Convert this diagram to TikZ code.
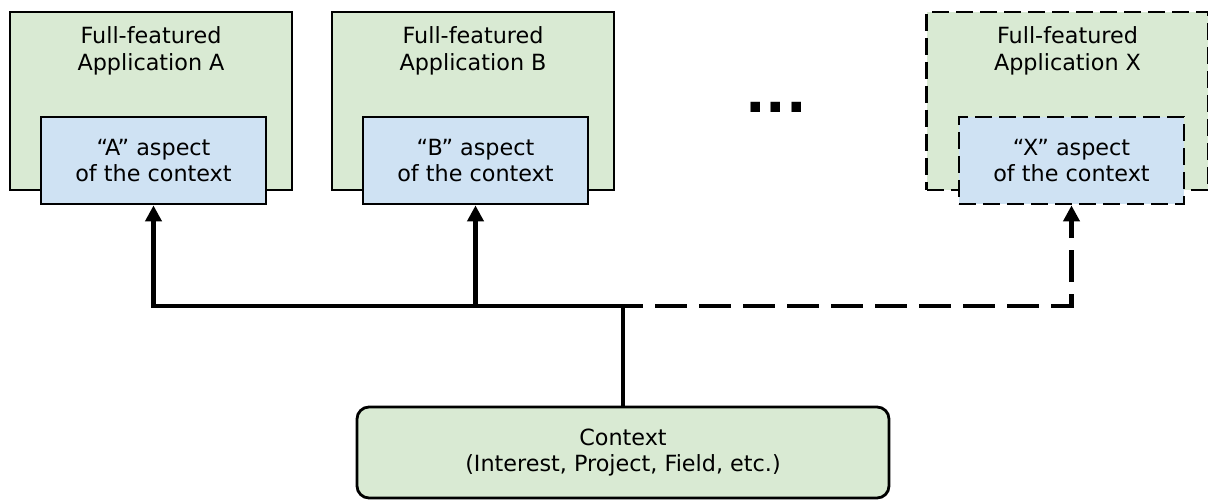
\documentclass[tikz,border=0pt]{standalone}
\usepackage{fontspec}
\setmainfont{DejaVu Sans}
\usetikzlibrary{arrows.meta,positioning}
\definecolor{appgreen}{HTML}{D9EAD3}
\definecolor{aspblue}{HTML}{CFE2F3}

\begin{document}
\begin{tikzpicture}[x=1pt, y=-1pt,
    app/.style={draw, line width=2.8pt, fill=appgreen, minimum width=282pt, minimum height=178pt},
    aspect/.style={draw, line width=2.8pt, fill=aspblue, minimum width=225pt, minimum height=87pt,
                   align=center, font=\fontsize{22.3}{26.5}\selectfont},
    title/.style={inner sep=0pt, align=center, font=\fontsize{22.3}{26.5}\selectfont},
    maybe/.style={dash pattern=on 17pt off 7pt},
    link/.style={line width=4.5pt, -{Triangle[width=16pt,length=16pt]}},
    maybelink/.style={link, dash pattern=on 32pt off 12pt}]
     \useasboundingbox (0,0) rectangle (1208,500);
     % applications
     \node[app] (appA) at (151,101) {};
     \node[app] (appB) at (473,101) {};
     \node[app, maybe] (appX) at (1067.5,101) {};
     \node[title, below=16pt of appA.north] (ttlA) {Full-featured\\Application A};
     \node[title, below=16pt of appB.north] (ttlB) {Full-featured\\Application B};
     \node[title, below=16pt of appX.north] (ttlX) {Full-featured\\Application X};
     \node[aspect] (aspA) at (153.5,160.5) {``A'' aspect\\of the context};
     \node[aspect] (aspB) at (475.5,160.5) {``B'' aspect\\of the context};
     \node[aspect, maybe] (aspX) at (1071.5,160.5) {``X'' aspect\\of the context};
     \node[anchor=base, inner sep=0pt, font=\fontsize{54}{54}\selectfont\bfseries] (dots) at (776,113) {...};
     % context
     \node[draw, line width=2.8pt, fill=appgreen, rounded corners=12pt, minimum width=532pt, minimum height=91pt,
           align=center, font=\fontsize{22.3}{26.5}\selectfont] (ctx) at (623,452.5) {Context\\(Interest, Project, Field, etc.)};
     \coordinate (bus) at (0,306);
     \draw[maybelink] (ctx.north) -- (ctx.north |- bus) -| (aspX.south);
     \draw[link] (ctx.north) -- (ctx.north |- bus) -| (aspA.south);
     \draw[link] (ctx.north) -- (ctx.north |- bus) -| (aspB.south);
\end{tikzpicture}
\end{document}
